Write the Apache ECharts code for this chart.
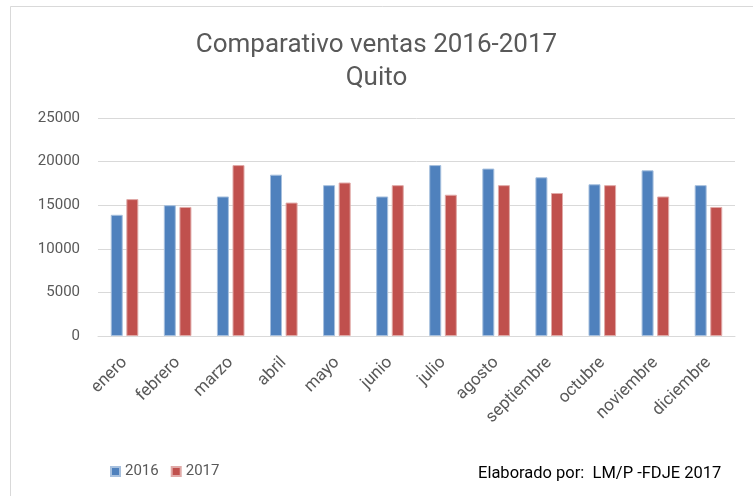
<!DOCTYPE html>
<html><head><meta charset="utf-8">
<script src="https://cdn.jsdelivr.net/npm/echarts@6/dist/echarts.min.js"></script>
<style>html,body{margin:0;padding:0;background:#fff}#c{width:753px;height:496px}</style>
</head><body><div id="c"></div>
<script>
var categories = ['enero','febrero','marzo','abril','mayo','junio','julio','agosto','septiembre','octubre','noviembre','diciembre'];
var ventas2016 = [13900,15000,16000,18500,17300,16000,19600,19200,18200,17400,19000,17300];
var ventas2017 = [15700,14800,19600,15300,17600,17300,16200,17300,16400,17300,16000,14800];
var yTicks = [0,5000,10000,15000,20000,25000];
var FONT = "'Roboto', sans-serif";
var chart = echarts.init(document.getElementById('c'));
chart.setOption({
  animation:false,
  backgroundColor:'#fff',
  title:{text:'Comparativo ventas 2016-2017\nQuito',left:'center',top:24,
    textStyle:{fontFamily:FONT,fontSize:26,fontWeight:'normal',color:'#595959',lineHeight:33}},
  legend:{left:105,top:459,itemWidth:9,itemHeight:9,itemGap:12,icon:'rect',
    textStyle:{fontFamily:FONT,fontSize:15,color:'#595959'},data:['2016','2017']},
  grid:{left:98,right:18,top:118,bottom:160},
  xAxis:{type:'category',data:categories,
    axisLine:{lineStyle:{color:'#d9d9d9'}},axisTick:{show:false},
    axisLabel:{rotate:45,fontFamily:FONT,fontSize:17,color:'#595959',margin:24,interval:0}},
  yAxis:{type:'value',min:yTicks[0],max:yTicks[yTicks.length-1],interval:5000,
    axisLine:{show:false},axisTick:{show:false},
    splitLine:{lineStyle:{color:'#d9d9d9',width:1}},
    axisLabel:{fontFamily:FONT,fontSize:15,color:'#595959',margin:18,formatter:function(v){return String(v);}}},
  series:[
    {name:'2016',type:'bar',data:ventas2016,barWidth:12,barGap:'30%',
      itemStyle:{color:'#4f81bd',borderColor:'#a7c0de',borderWidth:1}},
    {name:'2017',type:'bar',data:ventas2017,barWidth:12,
      itemStyle:{color:'#c0504d',borderColor:'#e0a9a7',borderWidth:1}}
  ],
  graphic:[
    {type:'rect',shape:{x:10.5,y:6.5,width:760,height:520},style:{fill:'none',stroke:'#d9d9d9',lineWidth:1},silent:true},
    {type:'text',left:478,top:465,style:{text:'Elaborado por:  LM/P -FDJE 2017',fontFamily:FONT,fontSize:16.5,fill:'#000'}}
  ]
});
</script></body></html>
